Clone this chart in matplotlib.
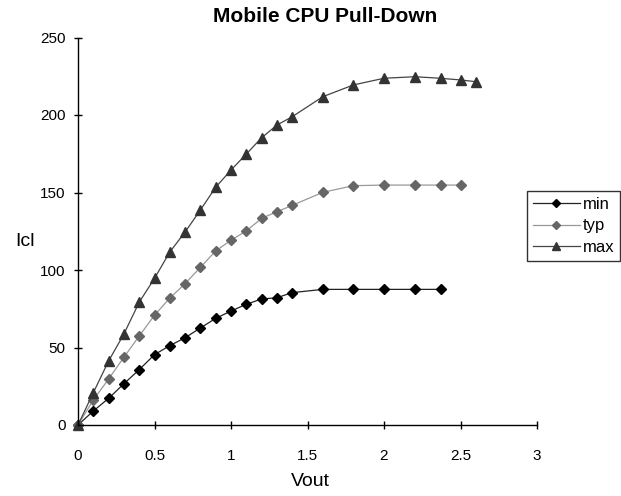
import matplotlib
matplotlib.use("Agg")
import matplotlib.pyplot as plt

plt.rcParams['font.family'] = ['Liberation Sans', 'DejaVu Sans']

# Data
vout_min = [0, 0.1, 0.2, 0.3, 0.4, 0.5, 0.6, 0.7, 0.8, 0.9, 1.0, 1.1, 1.2, 1.3, 1.4,
            1.6, 1.8, 2.0, 2.2, 2.37]
icl_min = [0, 9, 17.2, 26.6, 35.7, 45.4, 51.2, 56.3, 62.6, 68.8, 73.5, 77.9, 81.3, 82.1,
           85.4, 87.5, 87.5, 87.5, 87.5, 87.5]

vout_typ = [0, 0.1, 0.2, 0.3, 0.4, 0.5, 0.6, 0.7, 0.8, 0.9, 1.0, 1.1, 1.2, 1.3, 1.4,
            1.6, 1.8, 2.0, 2.2, 2.37, 2.5]
icl_typ = [0, 16.1, 29.7, 43.7, 57.4, 70.8, 81.9, 91.2, 101.7, 112.3, 119.2, 125.2,
           133.3, 137.6, 141.7, 150.1, 154.4, 154.8, 154.8, 154.8, 154.8]

vout_max = [0, 0.1, 0.2, 0.3, 0.4, 0.5, 0.6, 0.7, 0.8, 0.9, 1.0, 1.1, 1.2, 1.3, 1.4,
            1.6, 1.8, 2.0, 2.2, 2.37, 2.5, 2.6]
icl_max = [0, 20.8, 41.3, 58.7, 79.2, 94.6, 111.6, 124.5, 138.7, 153.4, 164.5, 174.8,
           185.3, 193.5, 198.9, 211.8, 219.4, 223.7, 224.7, 223.7, 222.6, 221.5]

x_ticks = [0, 0.5, 1, 1.5, 2, 2.5, 3]
x_ticklabels = ["0", "0.5", "1", "1.5", "2", "2.5", "3"]
y_ticks = [0, 50, 100, 150, 200, 250]

W, H = 621, 496
fig = plt.figure(figsize=(W / 100, H / 100), dpi=100)
ax = fig.add_axes([78 / W, (H - 425) / H, 459 / W, 387.5 / H])

ax.plot(vout_min, icl_min, color='#222222', lw=0.9, marker='D', ms=5.2,
        mfc='#000000', mec='#000000', label='min', clip_on=False)
ax.plot(vout_typ, icl_typ, color='#999999', lw=0.9, marker='D', ms=5.2,
        mfc='#666666', mec='#666666', label='typ', clip_on=False)
ax.plot(vout_max, icl_max, color='#444444', lw=0.9, marker='^', ms=7,
        mfc='#333333', mec='#333333', label='max', clip_on=False)

ax.set_xlim(0, 3)
ax.set_ylim(0, 250)
ax.set_xticks(x_ticks)
ax.set_xticklabels(x_ticklabels)
ax.set_yticks(y_ticks)

for s in ['top', 'right']:
    ax.spines[s].set_visible(False)
for s in ['left', 'bottom']:
    ax.spines[s].set_linewidth(1.0)
    ax.spines[s].set_color('black')

ax.tick_params(axis='x', direction='inout', length=6, width=1, pad=14, labelsize=11)
ax.tick_params(axis='y', direction='inout', length=6, width=1, pad=6, labelsize=11)

fig.text(325 / W, 1 - 16 / H, "Mobile CPU Pull-Down", ha='center', va='center',
         fontsize=15, fontweight='bold')
fig.text(310 / W, 1 - 481 / H, "Vout", ha='center', va='center', fontsize=14)
fig.text(25 / W, 1 - 242 / H, "Icl", ha='center', va='center', fontsize=14)

leg = ax.legend(loc='center left', bbox_to_anchor=(527 / W, 1 - 226 / H),
                bbox_transform=fig.transFigure, frameon=True, fancybox=False,
                edgecolor='black', fontsize=12, handlelength=2.8,
                handletextpad=0.2, borderpad=0.35, labelspacing=0.4,
                borderaxespad=0, markerscale=0.85)
leg.get_frame().set_linewidth(1.0)

fig.savefig("out.png", dpi=100)
